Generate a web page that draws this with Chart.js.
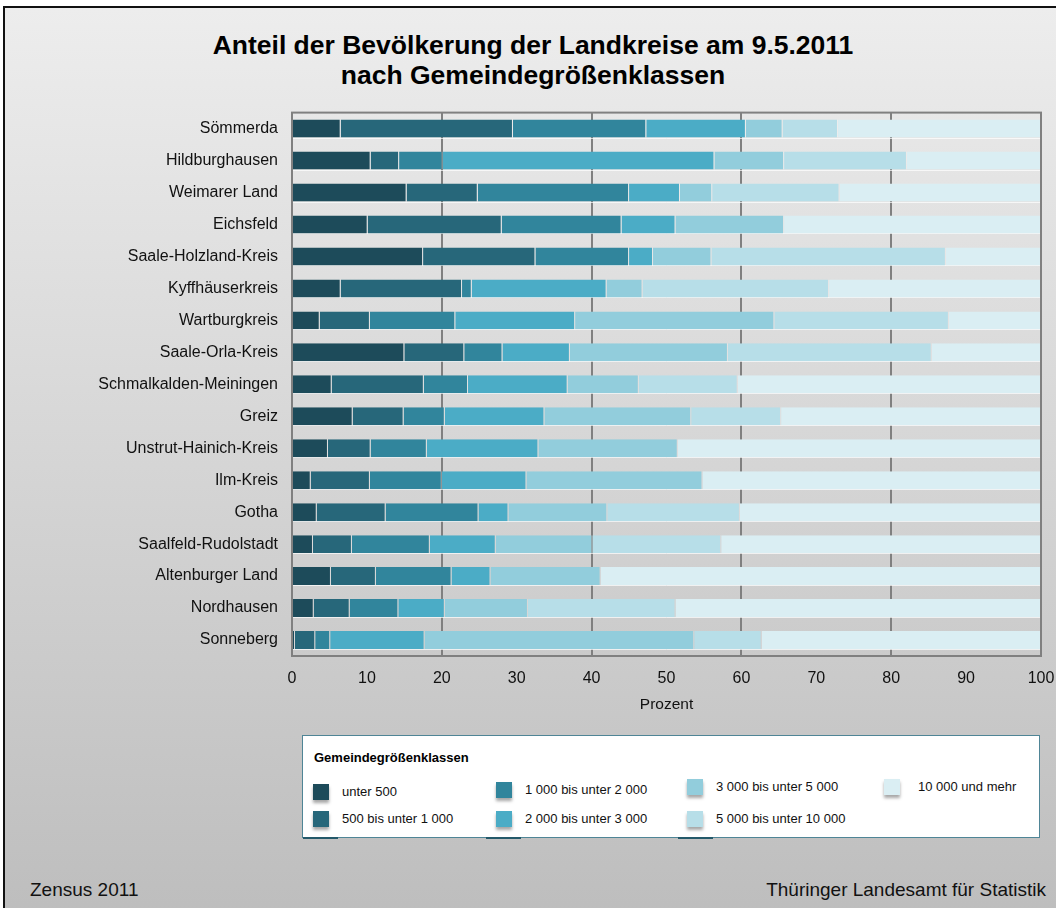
<!DOCTYPE html>
<html lang="de">
<head>
<meta charset="utf-8">
<script src="https://cdn.jsdelivr.net/npm/chart.js@4.4.1/dist/chart.umd.min.js"></script>
<style>
  body { margin: 0; width: 1056px; height: 908px; overflow: hidden; background: #fff;
         font-family: 'Liberation Sans', Arial, sans-serif; position: relative; }
  #rahmen { position: absolute; left: 3px; top: 6px; width: 1070px; height: 920px;
            border: 2px solid #111; box-sizing: border-box;
            background: linear-gradient(#ededed, #bdbdbd); }
  #titel { position: absolute; left: 0; top: 30px; width: 1066px; text-align: center;
           font-weight: bold; font-size: 26.5px; line-height: 30px; color: #000; }
  #balken { position: absolute; left: 0; top: 89px; }
  #legende { position: absolute; left: 302px; top: 735px; width: 738px; height: 103px;
             background: #fff; border: 1px solid #4f8596; box-sizing: border-box; }
  #legende .kopf { position: absolute; left: 11px; top: 14px; font-size: 13px; font-weight: bold; }
  #legende .box { position: absolute; width: 16px; height: 16px; box-shadow: 0 3px 3px rgba(0,0,0,0.35); }
  #legende .txt { position: absolute; font-size: 13px; line-height: 16px; color: #111; white-space: nowrap; }
  #legende .strich { position: absolute; bottom: -2px; height: 2px; width: 35px; background: #24596a; }
  .fuss { position: absolute; top: 879px; font-size: 19px; color: #111; }
</style>
</head>
<body>
<div id="rahmen"></div>
<div id="titel">Anteil der Bevölkerung der Landkreise am 9.5.2011<br>nach Gemeindegrößenklassen</div>
<canvas id="balken" width="1056" height="635"></canvas>
<div id="legende"><div class="kopf">Gemeindegrößenklassen</div></div>
<div class="fuss" style="left:30px">Zensus 2011</div>
<div class="fuss" style="right:10px">Thüringer Landesamt für Statistik</div>
<script>
const kreise = ['Sömmerda', 'Hildburghausen', 'Weimarer Land', 'Eichsfeld', 'Saale-Holzland-Kreis',
  'Kyffhäuserkreis', 'Wartburgkreis', 'Saale-Orla-Kreis', 'Schmalkalden-Meiningen', 'Greiz',
  'Unstrut-Hainich-Kreis', 'Ilm-Kreis', 'Gotha', 'Saalfeld-Rudolstadt', 'Altenburger Land',
  'Nordhausen', 'Sonneberg'];

const klassen = ['unter 500', '500 bis unter 1 000', '1 000 bis unter 2 000', '2 000 bis unter 3 000',
  '3 000 bis unter 5 000', '5 000 bis unter 10 000', '10 000 und mehr'];

const farben = ['#1d4b5a', '#27677a', '#31859c', '#4bacc6', '#92cddc', '#b7dee8', '#daeef3'];

const unter500 = [6.5, 10.5, 15.3, 10.1, 17.5, 6.5, 3.7, 15.0, 5.3, 8.1, 4.8, 2.5, 3.3, 2.8, 5.2, 2.9, 0.4];
const bis1000  = [23.0, 3.8, 9.5, 17.9, 15.0, 16.2, 6.7, 8.0, 12.3, 6.8, 5.7, 7.9, 9.2, 5.2, 6.0, 4.8, 2.7];
const bis2000  = [17.8, 5.8, 20.2, 16.0, 12.5, 1.3, 11.4, 5.1, 5.9, 5.5, 7.5, 9.6, 12.4, 10.4, 10.1, 6.5, 2.0];
const bis3000  = [13.3, 36.3, 6.8, 7.2, 3.2, 18.0, 16.0, 9.0, 13.3, 13.3, 14.9, 11.3, 4.0, 8.8, 5.2, 6.2, 12.6];
const bis5000  = [4.9, 9.3, 4.3, 14.5, 7.8, 4.8, 26.6, 21.1, 9.5, 19.6, 18.6, 23.5, 13.2, 12.9, 14.7, 11.1, 36.0];
const bis10000 = [7.4, 16.4, 17.0, 0, 31.3, 24.9, 23.3, 27.2, 13.2, 12.0, 0, 0, 17.7, 17.2, 0, 19.7, 9.0];
const ab10000  = [27.1, 17.9, 26.9, 34.3, 12.7, 28.3, 12.3, 14.6, 40.5, 34.7, 48.5, 45.2, 40.2, 42.7, 58.8, 48.8, 37.3];

const werte = [unter500, bis1000, bis2000, bis3000, bis5000, bis10000, ab10000];

// Rahmen um die Zeichenfläche und helle Linie unter jedem Balken
const rahmenPlugin = {
  id: 'rahmen',
  beforeDatasetsDraw(chart) {
    const ctx = chart.ctx, a = chart.chartArea;
    ctx.save();
    ctx.strokeStyle = 'rgba(255,255,255,0.7)';
    ctx.lineWidth = 1;
    chart.getDatasetMeta(0).data.forEach(bar => {
      const y = Math.round(bar.y + bar.height / 2) + 0.5;
      ctx.beginPath();
      ctx.moveTo(a.left, y);
      ctx.lineTo(a.right, y);
      ctx.stroke();
    });
    ctx.restore();
  },
  afterDatasetsDraw(chart) {
    const ctx = chart.ctx, a = chart.chartArea;
    ctx.save();
    ctx.strokeStyle = '#808080';
    ctx.lineWidth = 2;
    ctx.strokeRect(a.left, a.top, a.right - a.left, a.bottom - a.top);
    ctx.restore();
  }
};

const ctx = document.getElementById('balken').getContext('2d');
new Chart(ctx, {
  type: 'bar',
  data: {
    labels: kreise,
    datasets: klassen.map((name, i) => ({
      label: name,
      data: werte[i],
      backgroundColor: farben[i],
      borderColor: 'rgba(255,255,255,0.25)',
      borderWidth: { right: 1 },
      borderSkipped: false,
      categoryPercentage: 1,
      barPercentage: 0.5625
    }))
  },
  options: {
    indexAxis: 'y',
    responsive: false,
    devicePixelRatio: 1,
    animation: false,
    layout: { padding: { top: 8, right: 15, left: 0, bottom: 0 } },
    plugins: {
      legend: { display: false },
      tooltip: { enabled: false }
    },
    scales: {
      x: {
        stacked: true,
        min: 0,
        max: 100,
        ticks: { stepSize: 10, color: '#111', padding: 13, font: { size: 16, family: 'Liberation Sans' } },
        grid: {
          drawTicks: false,
          lineWidth: 2,
          color: c => (c.tick && c.tick.value % 20 === 0 && c.tick.value > 0 && c.tick.value < 100) ? '#808080' : 'rgba(0,0,0,0)'
        },
        border: { display: false },
        title: { display: true, text: 'Prozent', color: '#111', padding: { top: 0, bottom: 10 }, font: { size: 15.5, family: 'Liberation Sans' } },
        afterFit: scale => {
          scale.height = 68;
          scale.paddingLeft = 0;
          scale.paddingRight = 0;
        }
      },
      y: {
        stacked: true,
        ticks: { color: '#111', padding: 14, font: { size: 16, family: 'Liberation Sans' } },
        grid: { display: false, drawTicks: false },
        border: { display: false },
        afterFit: scale => { scale.width = 292; }
      }
    }
  },
  plugins: [rahmenPlugin]
});

// Legende in Spalten, wie im Original
const legende = document.getElementById('legende');
const spalteLinks = [10, 193, 384, 581];
const textAbstand = [29, 29, 29, 34];
const zeileOben = [[48, 75], [46, 75], [43, 75], [43, 75]];
klassen.forEach((name, i) => {
  const s = Math.floor(i / 2), z = i % 2;
  const box = document.createElement('div');
  box.className = 'box';
  box.style.left = spalteLinks[s] + 'px';
  box.style.top = zeileOben[s][z] + 'px';
  box.style.background = farben[i];
  legende.appendChild(box);
  const txt = document.createElement('div');
  txt.className = 'txt';
  txt.style.left = (spalteLinks[s] + textAbstand[s]) + 'px';
  txt.style.top = zeileOben[s][z] + 'px';
  txt.textContent = name;
  legende.appendChild(txt);
});
[0, 183, 375].forEach(x => {
  const st = document.createElement('div');
  st.className = 'strich';
  st.style.left = x + 'px';
  legende.appendChild(st);
});
</script>
</body>
</html>
